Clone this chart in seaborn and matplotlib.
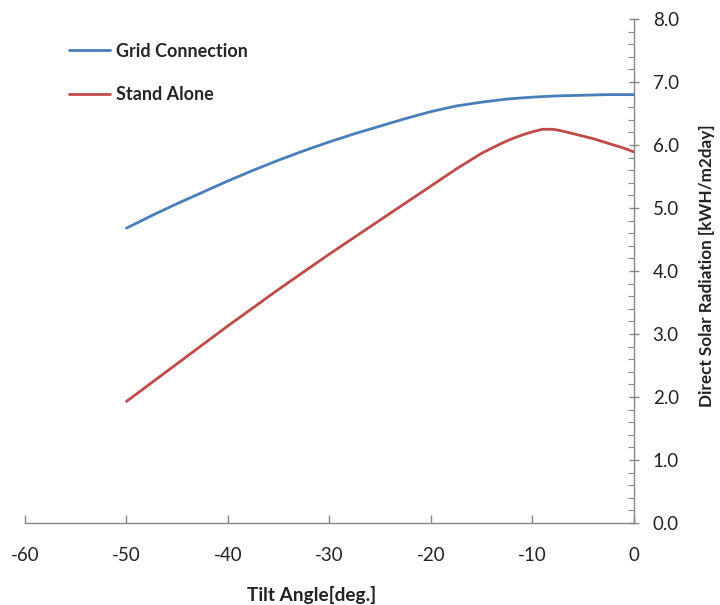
import matplotlib
matplotlib.use("Agg")
import matplotlib.pyplot as plt
from matplotlib.ticker import MultipleLocator, FormatStrFormatter
import seaborn as sns
import pandas as pd

# Tilt angle in degrees for each series
tilt_grid = [-50, -47.5, -45, -42.5, -40, -37.5, -35, -32.5, -30, -27.5, -25,
             -22.5, -20, -17.5, -15, -12.5, -10, -7.5, -5, -2.5, 0]
tilt_stand = [-50, -47.5, -45, -42.5, -40, -37.5, -35, -32.5, -30, -27.5, -25,
              -22.5, -20, -17.5, -15, -14, -13, -12, -11, -10, -9, -8, -7,
              -6, -5, -4, -3, -2, -1, 0]

# Direct solar radiation [kWH/m2day]
grid_connection = [4.68, 4.88, 5.07, 5.25, 5.43, 5.60, 5.76, 5.91, 6.05, 6.18, 6.30,
                   6.42, 6.53, 6.62, 6.68, 6.73, 6.76, 6.78, 6.79, 6.80, 6.80]
stand_alone = [1.93, 2.23, 2.53, 2.83, 3.13, 3.42, 3.71, 3.99, 4.27, 4.54, 4.81,
               5.08, 5.35, 5.62, 5.87, 5.95, 6.03, 6.10, 6.16, 6.21, 6.25, 6.25, 6.22,
               6.18, 6.14, 6.10, 6.05, 6.00, 5.95, 5.89]

series_names = ["Grid Connection", "Stand Alone"]
series_colors = ["#4A7EBB", "#BE4B48"]

df = pd.concat([
    pd.DataFrame({"tilt": tilt_grid, "value": grid_connection, "series": series_names[0]}),
    pd.DataFrame({"tilt": tilt_stand, "value": stand_alone, "series": series_names[1]}),
])

sns.set_theme(style="white")
plt.rcParams["font.family"] = ["Lato", "DejaVu Sans"]
plt.rcParams["axes.unicode_minus"] = False

fig = plt.figure(figsize=(7.2, 6.05), dpi=100)
ax = fig.add_axes([0.0347, 0.1355, 0.8458, 0.8331])

sns.lineplot(data=df, x="tilt", y="value", hue="series", palette=series_colors,
             hue_order=series_names, linewidth=2.0, ax=ax, legend=False, sort=False)

ax.set_xlim(-60, 0)
ax.set_ylim(0, 8)

# Axis frame: bottom and right only
for side in ["top", "left"]:
    ax.spines[side].set_visible(False)
for side in ["bottom", "right"]:
    ax.spines[side].set_color("#868686")
    ax.spines[side].set_linewidth(1.0)

ax.yaxis.tick_right()
ax.yaxis.set_label_position("right")
ax.xaxis.set_major_locator(MultipleLocator(10))
ax.yaxis.set_major_locator(MultipleLocator(1))
ax.yaxis.set_minor_locator(MultipleLocator(0.2))
ax.yaxis.set_major_formatter(FormatStrFormatter("%.1f"))

ax.tick_params(axis="x", which="major", direction="in", length=6, width=1,
               color="#868686", labelsize=13.5, pad=17, labelcolor="#222222",
               bottom=True)
ax.tick_params(axis="y", which="major", direction="inout", length=7, width=1,
               color="#868686", labelsize=13.5, pad=10, labelcolor="#222222",
               right=True, left=False)
ax.tick_params(axis="y", which="minor", direction="in", length=4, width=0.8,
               color="#868686", right=True, left=False)

ax.set_xlabel("Tilt Angle[deg.]", fontsize=13.7, fontweight="bold", color="#222222")
ax.set_ylabel("Direct Solar Radiation [kWH/m2day]", fontsize=12.3, fontweight="bold",
              color="#222222")
ax.xaxis.set_label_coords(0.47, -0.125)
ax.yaxis.set_label_coords(1.107, 0.51)

handles = [plt.Line2D([], [], color=c, linewidth=2.0) for c in series_colors]
ax.legend(handles, series_names, loc="upper left", bbox_to_anchor=(0.045, 0.985),
          frameon=False, handlelength=2.3, handletextpad=0.35,
          labelspacing=1.45, prop={"weight": "bold", "size": 13})

ax.grid(False)
fig.savefig("out.png", dpi=100, facecolor="white")
